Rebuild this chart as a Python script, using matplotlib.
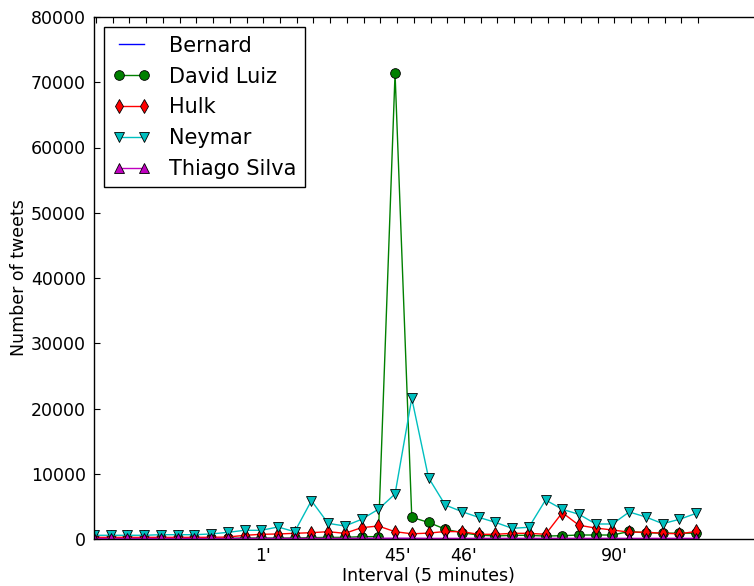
import matplotlib
matplotlib.use("Agg")
import matplotlib.pyplot as plt
import numpy as np

# Data (interval index, 5-minute bins)
bernard = [30, 30, 30, 30, 30, 30, 30, 30, 40, 40, 40, 40, 40, 40, 40, 40, 50, 50, 60, 60,
           50, 40, 40, 40, 40, 40, 40, 40, 40, 40, 40, 40, 40, 40, 40, 40, 40]
david_luiz = [100, 100, 100, 100, 100, 100, 100, 100, 100, 150, 150, 150, 150, 200, 250, 250, 360, 360,
              71370, 3320, 2550, 1500, 970, 600, 460, 560, 560, 450, 510, 610, 610, 610, 1150, 950, 900, 880, 900]
hulk = [250, 250, 250, 250, 250, 250, 250, 260, 300, 560, 720, 770, 870, 970, 1120, 870, 1740, 1990,
        1120, 800, 900, 1150, 1120, 720, 720, 870, 870, 720, 4040, 2100, 1680, 1380, 1050, 1050, 870, 800, 1150]
neymar = [570, 570, 570, 570, 660, 660, 660, 770, 1020, 1330, 1330, 1840, 1120, 5870, 2400, 1990, 3010, 4550,
          6900, 21560, 9400, 5210, 4190, 3320, 2550, 1640, 1790, 5980, 4550, 3780, 2300, 2300, 4140, 3370, 2350, 3010, 3930]
thiago_silva = [80, 80, 80, 80, 80, 80, 80, 80, 80, 100, 100, 100, 100, 100, 100, 100, 120, 120,
                120, 120, 100, 100, 100, 100, 100, 100, 100, 100, 100, 100, 100, 100, 100, 100, 100, 100, 100]

series_names = ["Bernard", "David Luiz", "Hulk", "Neymar", "Thiago Silva"]
tick_labels = {10: "1'", 18: "45'", 22: "46'", 31: "90'"}

x = np.arange(len(neymar))

fig = plt.figure(figsize=(7.54, 5.86), dpi=100)
ax = fig.add_axes([94 / 754, 47 / 586, 669 / 754, 522 / 586])

ms = 7
ax.plot(x, bernard, color=(0, 0, 1), lw=1.0, label=series_names[0])
ax.plot(x, david_luiz, color=(0, 0.5, 0), lw=1.0, marker="o", ms=ms, mec="black", mew=0.6, label=series_names[1])
ax.plot(x, hulk, color=(1, 0, 0), lw=1.0, marker="d", ms=ms + 0.5, mec="black", mew=0.6, label=series_names[2])
ax.plot(x, neymar, color=(0, 0.75, 0.75), lw=1.0, marker="v", ms=ms, mec="black", mew=0.6, label=series_names[3])
ax.plot(x, thiago_silva, color=(0.75, 0, 0.75), lw=1.0, marker="^", ms=ms, mec="black", mew=0.6, label=series_names[4])

ax.set_xlim(0, 40)
ax.set_ylim(0, 80000)
ax.set_yticks(np.arange(0, 80001, 10000))

offset = 0.12
ticks = np.arange(0, 37) + offset
ax.set_xticks(ticks)
ax.set_xticklabels([tick_labels.get(k, "") for k in range(37)])

ax.tick_params(axis="both", direction="in", length=4.5, width=0.8, top=True, right=True,
               labelsize=12.5, colors="black", pad=6)
for sp in ax.spines.values():
    sp.set_linewidth(1.0)
    sp.set_color("black")

ax.set_xlabel("Interval (5 minutes)", fontsize=12.5, labelpad=1)
ax.set_ylabel("Number of tweets", fontsize=12.5)
ax.yaxis.set_label_coords(-0.099, 0.5)

leg = ax.legend(loc="upper left", numpoints=2, fontsize=15, fancybox=False, framealpha=1,
                edgecolor="black", borderaxespad=0.5, handlelength=1.8, handletextpad=0.9,
                labelspacing=0.52, borderpad=0.4)
leg.get_frame().set_linewidth(1.0)

fig.savefig("out.png", dpi=100)
